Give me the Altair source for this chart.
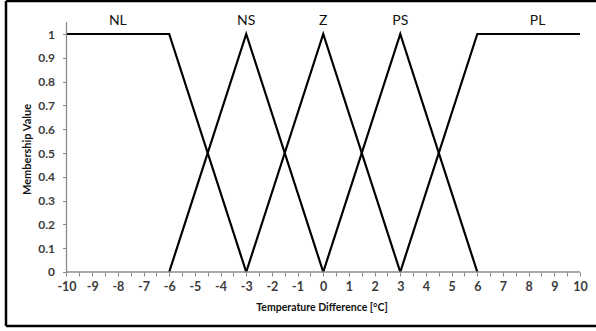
import altair as alt
import pandas as pd

# membership functions (x breakpoints, membership values)
sets = ["NL", "NS", "Z", "PS", "PL"]
nl_x = [-10, -6, -3]
nl_y = [1, 1, 0]
ns_x = [-6, -3, 0]
ns_y = [0, 1, 0]
z_x = [-3, 0, 3]
z_y = [0, 1, 0]
ps_x = [0, 3, 6]
ps_y = [0, 1, 0]
pl_x = [3, 6, 10]
pl_y = [0, 1, 1]

label_x = [-8, -3, 0, 3, 8.35]
label_y = [1.055, 1.055, 1.055, 1.055, 1.055]

x_ticks = [-10 + 0.5 * i for i in range(41)]
y_ticks = [round(i / 10, 1) for i in range(11)]

rows = []
for name, xs_, ys_ in zip(sets, [nl_x, ns_x, z_x, ps_x, pl_x], [nl_y, ns_y, z_y, ps_y, pl_y]):
    for i, (a, b) in enumerate(zip(xs_, ys_)):
        rows.append({"set": name, "x": a, "y": b, "order": i})
df = pd.DataFrame(rows)
labels = pd.DataFrame({"set": sets, "x": label_x, "y": label_y})

# scale domains chosen so the view coincides with the frame box
XMIN, XMAX = -12.356, 10.623
YMIN, YMAX = -0.2269, 1.1387

xs = alt.Scale(domain=[XMIN, XMAX], nice=False, zero=False)
ys = alt.Scale(domain=[YMIN, YMAX], nice=False, zero=False)

FONT = "Lato"

xaxis = alt.Axis(
    values=x_ticks,
    labelExpr="datum.value % 1 == 0 ? '' + datum.value : ''",
    labelOverlap=False, labelFlush=False, labelBound=False,
    domain=False, grid=False, offset=-54,
    tickSize=4, tickColor="#888888", tickWidth=1,
    labelFont=FONT, labelFontSize=12.5, labelFontWeight="bold",
    labelColor="#3c3c3c", labelPadding=4,
    title="Temperature Difference [°C]", titleFont=FONT, titleFontSize=10.5,
    titleFontWeight="bold", titleColor="#111111",
    titleX=315.5, titleY=35, titleBaseline="middle", titleAlign="center",
)
yaxis = alt.Axis(
    values=y_ticks,
    labelExpr="'' + datum.value",
    labelOverlap=False, labelFlush=False, labelBound=False,
    domain=False, grid=False, offset=-60.5,
    tickSize=4, tickColor="#888888", tickWidth=1,
    labelFont=FONT, labelFontSize=12, labelFontWeight="bold",
    labelColor="#3c3c3c", labelPadding=8,
    title="Membership Value", titleFont=FONT, titleFontSize=11,
    titleFontWeight="bold", titleColor="#111111",
    titleX=-39.5, titleY=148, titleAngle=270, titleBaseline="middle", titleAlign="center",
)

X = alt.X("x:Q", scale=xs, axis=xaxis)
Y = alt.Y("y:Q", scale=ys, axis=yaxis)

lines = alt.Chart(df).mark_line(color="black", strokeWidth=2.2).encode(
    x=X, y=Y, detail="set:N", order="order:Q",
)

axis_lines = pd.DataFrame({
    "x": [-10, -10], "x2": [10, -10], "y": [0, 0], "y2": [0, 1.05],
})
axis_rules = alt.Chart(axis_lines).mark_rule(color="#8c8c8c", strokeWidth=1.3).encode(
    x=X, x2="x2", y=Y, y2="y2",
)

frame = pd.DataFrame({
    "x": [XMIN, XMIN, XMIN], "x2": [XMAX, XMAX, XMIN],
    "y": [YMAX, YMIN, YMIN], "y2": [YMAX, YMIN, YMAX],
})
frame_rules = alt.Chart(frame).mark_rule(color="black", strokeWidth=2.5).encode(
    x=X, x2="x2", y=Y, y2="y2",
)

texts = alt.Chart(labels).mark_text(
    font=FONT, fontSize=14, color="#111111", baseline="middle", align="center"
).encode(x=X, y=Y, text="set:N")

chart = alt.layer(lines, axis_rules, texts, frame_rules).properties(
    width=590, height=325,
    padding={"left": 6, "top": 1, "right": 0, "bottom": 5},
    autosize=alt.AutoSizeParams(type="none"),
).configure_view(stroke=None).configure(background="white")

chart.save("out.html", embed_options={"renderer": "svg", "actions": False})
